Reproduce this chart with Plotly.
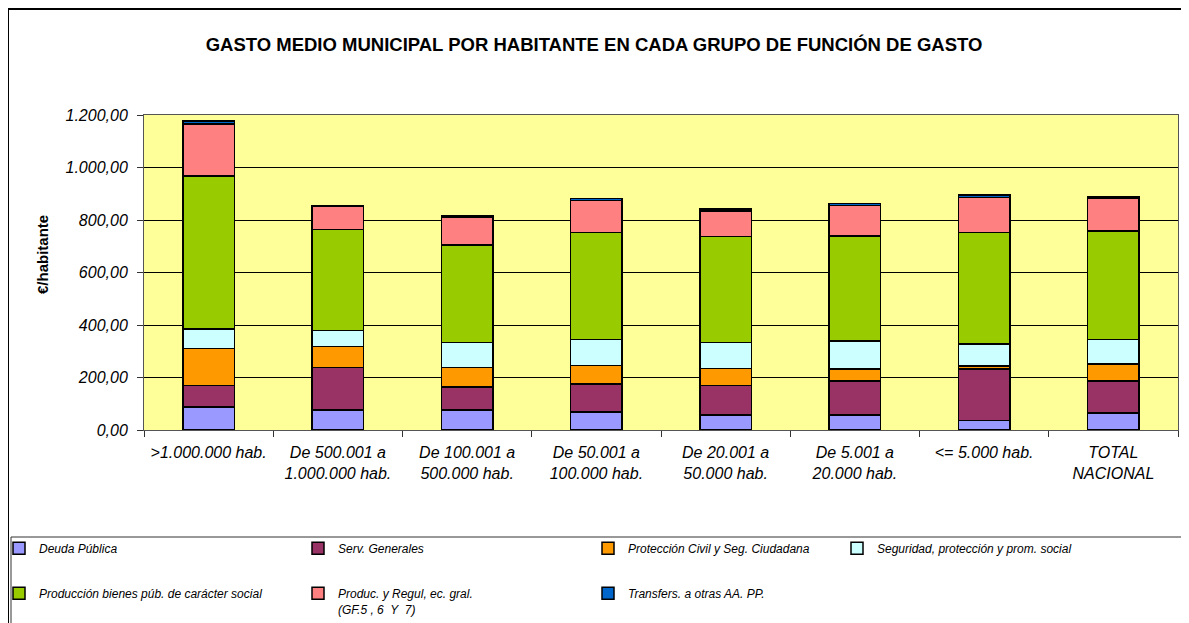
import plotly.graph_objects as go

categories = [">1.000.000", "500.001-1.000.000", "100.001-500.000", "50.001-100.000",
              "20.001-50.000", "5.001-20.000", "<=5.000", "TOTAL"]
tick_labels = [">1.000.000 hab.", "De 500.001 a<br>1.000.000 hab.", "De 100.001 a<br>500.000 hab.",
               "De 50.001 a<br>100.000 hab.", "De 20.001 a<br>50.000 hab.", "De 5.001 a<br>20.000 hab.",
               "&lt;= 5.000 hab.", "TOTAL<br>NACIONAL"]

deuda = [88, 76, 76, 69, 58, 58, 36, 65]
serv_generales = [81, 163, 88, 107, 111, 128, 197, 122]
proteccion_civil = [141, 80, 75, 69, 65, 47, 11, 65]
seguridad_social = [75, 61, 94, 100, 99, 107, 83, 93]
prod_bienes_social = [583, 383, 372, 408, 404, 400, 425, 414]
produc_regul = [198, 88, 104, 121, 97, 116, 133, 122]
transfers = [11, 2, 7, 8, 7, 6, 11, 6]

series_names = ["Deuda Pública", "Serv. Generales", "Protección Civil y Seg. Ciudadana",
                "Seguridad, protección y prom. social", "Producción bienes púb. de carácter social",
                "Produc. y Regul, ec. gral.<br>(GF.5 , 6  Y  7)", "Transfers. a otras AA. PP."]
series_values = [deuda, serv_generales, proteccion_civil, seguridad_social,
                 prod_bienes_social, produc_regul, transfers]
series_colors = ["#9999FF", "#993366", "#FF9900", "#CCFFFF", "#99CC00", "#FF8080", "#0066CC"]
legend_ids = ["legend", "legend2", "legend3", "legend4", "legend", "legend2", "legend3"]

FONT = "Liberation Sans, Arial, sans-serif"

# page body has an 8px margin: figure pixel = screen pixel - 8
OFF = 8
W, H = 1189 - OFF, 623 - OFF
plot_left, plot_right, plot_top, plot_bottom = 144, 1178, 115, 430  # screen px
L = plot_left - OFF
R = W - (plot_right - OFF)
T = plot_top - OFF
B = H - (plot_bottom - OFF)
pw, ph = W - L - R, H - T - B

def sx(px):
    return (px - OFF - L) / pw

def sy(py):
    return (H - B - (py - OFF)) / ph

fig = go.Figure()
for name, vals, col, lg in zip(series_names, series_values, series_colors, legend_ids):
    fig.add_trace(go.Bar(
        x=categories, y=vals, name=name, legend=lg, legendgroup=name,
        marker=dict(color=col, line=dict(color="black", width=1.5)),
        width=0.4,
    ))

legend_common = dict(
    orientation="v", xref="paper", yref="paper", yanchor="top", xanchor="left",
    bgcolor="rgba(0,0,0,0)", borderwidth=0, tracegroupgap=26, valign="top",
    font=dict(family=FONT, size=12, color="black", style="italic"), traceorder="grouped",
)
legend_text_x = [35, 334, 624, 873]  # screen px of legend text starts
legend_lefts = [t + 4 - 40 for t in legend_text_x]
legend_top = sy(534)

fig.update_layout(
    width=W, height=H,
    margin=dict(l=L, r=R, t=T, b=B, autoexpand=False),
    paper_bgcolor="white", plot_bgcolor="#FFFF99",
    barmode="stack", bargap=0.6,
    separators=",.",
    font=dict(family=FONT, color="black"),
    title=dict(text="<b>GASTO MEDIO MUNICIPAL POR HABITANTE EN CADA GRUPO DE FUNCIÓN DE GASTO</b>",
               x=(594 - OFF) / W, xref="container", xanchor="center",
               y=1 - (45 - OFF) / H, yref="container",
               yanchor="middle", font=dict(family=FONT, size=18.5, color="black")),
    xaxis=dict(
        type="category", tickmode="array", tickvals=categories, ticktext=tick_labels,
        tickson="boundaries", ticks="outside", ticklen=6, tickcolor="#333", ticklabelstandoff=8,
        showline=True, linecolor="#555", linewidth=1, mirror=True,
        tickfont=dict(family=FONT, size=16, color="black", style="italic"),
        showgrid=False, automargin=False,
    ),
    yaxis=dict(
        range=[0, 1200], tickmode="linear", tick0=0, dtick=200, tickformat=",.2f",
        ticks="outside", ticklen=6, tickcolor="#333", ticklabelstandoff=6,
        showline=True, linecolor="#555", linewidth=1, mirror=True,
        showgrid=True, gridcolor="black", gridwidth=1, zeroline=False, automargin=False,
        tickfont=dict(family=FONT, size=16, color="black", style="italic"),
    ),
    legend=dict(legend_common, x=sx(legend_lefts[0]), y=legend_top),
    legend2=dict(legend_common, x=sx(legend_lefts[1]), y=legend_top),
    legend3=dict(legend_common, x=sx(legend_lefts[2]), y=legend_top),
    legend4=dict(legend_common, x=sx(legend_lefts[3]), y=legend_top),
    annotations=[
        dict(text="<b>€/habitante</b>", xref="paper", yref="paper", x=sx(42), y=sy(255),
             xanchor="center", yanchor="middle", textangle=-90, showarrow=False,
             font=dict(family=FONT, size=15, color="black")),
    ],
    shapes=[
        dict(type="rect", xref="paper", yref="paper",
             x0=sx(8), x1=sx(1200), y0=sy(9), y1=sy(640),
             line=dict(color="black", width=2), fillcolor="rgba(0,0,0,0)", layer="above"),
        dict(type="rect", xref="paper", yref="paper",
             x0=sx(11), x1=sx(1185), y0=sy(537), y1=sy(640),
             line=dict(color="#333", width=1), fillcolor="rgba(0,0,0,0)", layer="above"),
    ],
)

fig.write_html("out.html")
